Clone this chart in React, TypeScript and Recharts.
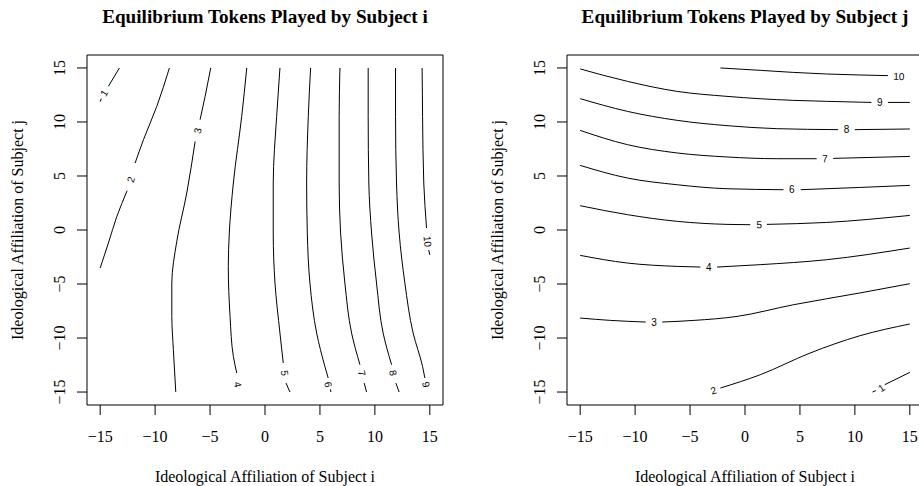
import React from 'react';
import { ComposedChart, Line, Scatter, XAxis, YAxis, ReferenceArea } from 'recharts';

type P = { x: number; y: number };
const p = (x: number, y: number): P => ({ x, y });

// axis ticks and plot range (R pads the data range by 4%)
const TICKS = [-15, -10, -5, 0, 5, 10, 15];
const LIM = 16.2;

// ---- left panel: tokens played by subject i (contour segments, split where labels sit)
const iLevel1 = [[p(-13.25, 15), p(-14.25, 13.3)], [p(-14.9, 12.16), p(-15, 11.88)]];
const iLevel2 = [
  [p(-8.7, 15), p(-9.85, 11.44), p(-11.06, 8.36), p(-11.82, 6.2)],
  [p(-12.55, 3.64), p(-13.48, 1.26), p(-14.25, -1.2), p(-15, -3.52)],
];
const iLevel3 = [
  [p(-4.94, 15), p(-5.45, 12.37), p(-5.91, 10.21)],
  [p(-6.36, 8.2), p(-7.12, 3.43), p(-8.03, -1.06), p(-8.48, -4.91), p(-8.48, -8.0), p(-8.34, -11.08), p(-8.12, -15)],
];
const iLevel4 = [
  [p(-1.66, 15), p(-2.12, 10.52), p(-2.88, 4.35), p(-3.25, -0.28), p(-3.34, -3.37), p(-3.18, -8.0), p(-2.88, -11.7), p(-2.57, -13.24)],
];
const iLevel5 = [
  [p(1.36, 15), p(1.06, 10.52), p(0.75, 4.35), p(0.75, -0.28), p(0.91, -4.91), p(1.36, -9.54), p(1.66, -12.31)],
  [p(1.91, -14.17), p(2.27, -15)],
];
const iLevel6 = [
  [p(4.15, 15), p(3.94, 10.52), p(3.79, 4.35), p(3.85, -0.28), p(4.09, -4.91), p(4.7, -9.54), p(5.45, -12.63), p(5.75, -13.7)],
  [p(5.95, -14.75), p(6.0, -15)],
];
const iLevel7 = [
  [p(6.82, 15), p(6.75, 10.52), p(6.75, 4.35), p(6.88, -0.28), p(7.27, -4.91), p(7.88, -9.54), p(8.64, -12.47)],
  [p(9.03, -14.17), p(9.24, -15)],
];
const iLevel8 = [
  [p(9.39, 15), p(9.39, 10.52), p(9.45, 4.35), p(9.7, -0.28), p(10.15, -4.91), p(10.75, -9.54), p(11.52, -12.47)],
  [p(11.91, -14.17), p(12.21, -15)],
];
const iLevel9 = [
  [p(11.88, 15), p(11.88, 10.52), p(11.97, 4.35), p(12.21, -0.28), p(12.73, -4.91), p(13.48, -9.54), p(14.34, -12.63), p(14.55, -13.7)],
];
const iLevel10 = [[p(14.3, 15), p(14.34, 10.52), p(14.45, 4.35), p(14.7, 0.19)], [p(14.9, -1.85), p(15, -2.3)]];

const iLabelPos = [
  p(-14.64, 12.69), p(-12.21, 4.66), p(-6.14, 9.2), p(-2.48, -14.3), p(1.8, -13.24),
  p(5.75, -14.3), p(8.82, -13.24), p(11.66, -13.24), p(14.65, -14.3), p(14.79, -1.06),
];

// ---- right panel: tokens played by subject j
const jLevel1 = [[p(11.6, -15), p(11.9, -14.87)], [p(12.72, -14.32), p(15, -13.18)]];
const jLevel2 = [[p(-2.24, -14.63), p(1.38, -13.4), p(5.92, -11.39), p(10.45, -9.79), p(15, -8.7)]];
const jLevel3 = [
  [p(-15, -8.15), p(-12.22, -8.37), p(-9.04, -8.52)],
  [p(-7.53, -8.52), p(-4.66, -8.37), p(-0.73, -8.0), p(4.4, -6.92), p(10.45, -5.83), p(15, -4.97)],
];
const jLevel4 = [
  [p(-15, -2.35), p(-10.7, -3.06), p(-6.17, -3.37), p(-4.06, -3.43)],
  [p(-2.54, -3.43), p(1.38, -3.21), p(7.43, -2.75), p(15, -1.67)],
];
const jLevel5 = [
  [p(-15, 2.25), p(-10.7, 1.42), p(-6.17, 0.8), p(-1.64, 0.52), p(0.48, 0.49)],
  [p(1.99, 0.52), p(7.43, 0.7), p(15, 1.35)],
];
const jLevel6 = [
  [p(-15, 5.98), p(-10.7, 4.81), p(-6.17, 4.19), p(-1.64, 3.82), p(3.5, 3.73)],
  [p(5.07, 3.73), p(10.45, 3.94), p(15, 4.13)],
];
const jLevel7 = [
  [p(-15, 9.22), p(-10.7, 7.9), p(-6.17, 7.13), p(-1.64, 6.76), p(2.9, 6.6), p(6.52, 6.6)],
  [p(8.03, 6.63), p(15, 6.81)],
];
const jLevel8 = [
  [p(-15, 12.16), p(-10.7, 10.98), p(-6.17, 10.15), p(-1.64, 9.66), p(2.9, 9.38), p(8.48, 9.29)],
  [p(9.99, 9.29), p(15, 9.35)],
];
const jLevel9 = [
  [p(-15, 14.91), p(-10.7, 13.76), p(-6.17, 12.83), p(-1.64, 12.37), p(4.4, 12.0), p(7.43, 11.91), p(11.51, 11.81)],
  [p(13.01, 11.81), p(15, 11.81)],
];
const jLevel10 = [[p(-2.24, 15), p(1.38, 14.78), p(4.4, 14.59), p(7.43, 14.44), p(10.45, 14.35), p(13.01, 14.29)]];

const jLabelPos = [
  p(12.42, -14.63), p(-2.87, -14.85), p(-8.29, -8.52), p(-3.3, -3.43), p(1.29, 0.49),
  p(4.26, 3.73), p(7.28, 6.6), p(9.24, 9.29), p(12.26, 11.81), p(14.01, 14.22),
];

const iLevels = [iLevel1, iLevel2, iLevel3, iLevel4, iLevel5, iLevel6, iLevel7, iLevel8, iLevel9, iLevel10];
const jLevels = [jLevel1, jLevel2, jLevel3, jLevel4, jLevel5, jLevel6, jLevel7, jLevel8, jLevel9, jLevel10];

// layout
const W = 460;
const H = 486;
const M_TOP = 55;
const M_RIGHT = 17;
const Y_W = 87;
const X_H = 81;
const PLOT_W = W - Y_W - M_RIGHT;
const PLOT_H = H - M_TOP - X_H;
const KX = PLOT_W / (2 * LIM);
const KY = PLOT_H / (2 * LIM);

const SERIF = '"Liberation Serif", "Times New Roman", Times, serif';
const SANS = '"Liberation Sans", Arial, Helvetica, sans-serif';

const fmt = (v: number) => String(v).replace('-', '\u2212');

// label rotation follows the contour next to it, kept upright like R does
function labelAngle(segs: P[][], lab: P) {
  const pts = segs.flat();
  const near = pts
    .map((q, i) => ({ i, d: Math.hypot((q.x - lab.x) * KX, (q.y - lab.y) * KY) }))
    .sort((a, b) => a.d - b.d);
  const [a, b] = [near[0].i, near[1].i].sort((m, n) => m - n);
  let ang = (Math.atan2(-(pts[b].y - pts[a].y) * KY, (pts[b].x - pts[a].x) * KX) * 180) / Math.PI;
  while (ang > 90) ang -= 180;
  while (ang <= -90) ang += 180;
  return ang;
}

const XTick = (props: any) => (
  <text x={props.x} y={props.y} dy="0.71em" textAnchor="middle" fontFamily={SERIF} fontSize={16} fill="#000">
    {fmt(props.payload.value)}
  </text>
);

const YTick = (props: any) => (
  <text
    x={props.x}
    y={props.y}
    transform={`rotate(-90, ${props.x}, ${props.y})`}
    textAnchor="middle"
    fontFamily={SERIF}
    fontSize={16}
    fill="#000"
  >
    {fmt(props.payload.value)}
  </text>
);

const XTitle = (props: any) => {
  const vb = props.viewBox;
  return (
    <text x={vb.x + vb.width / 2} y={vb.y + vb.height - 4} textAnchor="middle" fontFamily={SERIF} fontSize={16} fill="#000">
      {props.text}
    </text>
  );
};

const YTitle = (props: any) => {
  const vb = props.viewBox;
  const x = vb.x + 23;
  const y = vb.y + vb.height / 2;
  return (
    <text x={x} y={y} transform={`rotate(-90, ${x}, ${y})`} textAnchor="middle" fontFamily={SERIF} fontSize={16} fill="#000">
      {props.text}
    </text>
  );
};

const LevelText = (props: any) => {
  const { cx, cy, payload } = props;
  return (
    <text
      x={cx}
      y={cy}
      dy="0.36em"
      transform={`rotate(${payload.angle}, ${cx}, ${cy})`}
      textAnchor="middle"
      fontFamily={SANS}
      fontSize={10}
      fill="#000"
    >
      {payload.level}
    </text>
  );
};

type Curve = 'monotoneX' | 'monotoneY';

function Panel({ left, title, levels, labelPos, curve }: { left: number; title: string; levels: P[][][]; labelPos: P[]; curve: Curve }) {
  const labels = labelPos.map((lp, k) => ({ x: lp.x, y: lp.y, level: String(k + 1), angle: labelAngle(levels[k], lp) }));
  return (
    <div style={{ position: 'absolute', left, top: 0, width: W, height: H }}>
      <svg width={W} height={40} style={{ position: 'absolute', left: 0, top: 0 }}>
        <text x={Y_W + PLOT_W / 2} y={22.7} textAnchor="middle" fontFamily={SERIF} fontWeight="bold" fontSize={19.2} fill="#000">
          {title}
        </text>
      </svg>
      <ComposedChart width={W} height={H} margin={{ top: M_TOP, right: M_RIGHT, bottom: 0, left: 0 }}>
        <XAxis
          type="number"
          dataKey="x"
          domain={[-LIM, LIM]}
          ticks={TICKS}
          interval={0}
          allowDataOverflow
          height={X_H}
          axisLine={false}
          tickSize={10}
          tickMargin={16}
          tickLine={{ stroke: '#000' }}
          tick={<XTick />}
          label={<XTitle text="Ideological Affiliation of Subject i" />}
        />
        <YAxis
          type="number"
          domain={[-LIM, LIM]}
          ticks={TICKS}
          interval={0}
          allowDataOverflow
          width={Y_W}
          axisLine={false}
          tickSize={10}
          tickMargin={12}
          tickLine={{ stroke: '#000' }}
          tick={<YTick />}
          label={<YTitle text="Ideological Affiliation of Subject j" />}
        />
        <ReferenceArea x1={-LIM} x2={LIM} y1={-LIM} y2={LIM} stroke="#000" strokeWidth={1} fill="none" fillOpacity={0} />
        {levels.flatMap((segs, k) =>
          segs.map((seg, s) => (
            <Line
              key={`c${k}-${s}`}
              data={seg}
              dataKey="y"
              type={curve}
              stroke="#000"
              strokeWidth={1}
              dot={false}
              activeDot={false}
              legendType="none"
              isAnimationActive={false}
            />
          ))
        )}
        <Scatter data={labels} dataKey="y" shape={<LevelText />} legendType="none" isAnimationActive={false} />
      </ComposedChart>
    </div>
  );
}

export default function App() {
  return (
    <div style={{ position: 'fixed', left: 0, top: 0, width: 919, height: 486, overflow: 'hidden', background: '#fff' }}>
      <Panel left={0} title="Equilibrium Tokens Played by Subject i" levels={iLevels} labelPos={iLabelPos} curve="monotoneY" />
      <Panel left={480} title="Equilibrium Tokens Played by Subject j" levels={jLevels} labelPos={jLabelPos} curve="monotoneX" />
    </div>
  );
}
